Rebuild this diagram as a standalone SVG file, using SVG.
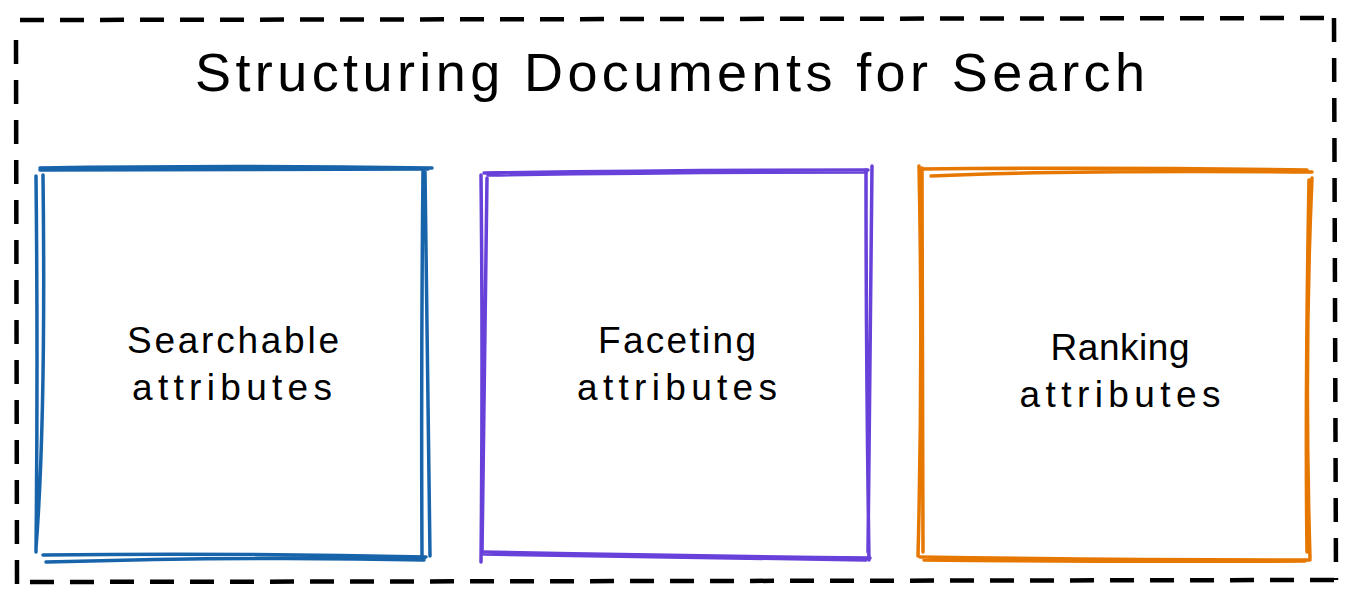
<svg xmlns="http://www.w3.org/2000/svg" width="1353" height="602" viewBox="0 0 1353 602">
  <style>
    .frame { fill: none; stroke: #000; stroke-width: 4.5; stroke-dasharray: 24 16; }
    .sk { fill: none; stroke-width: 3.5; stroke-linecap: round; stroke-linejoin: round; }
    .blue { stroke: #1864ab; }
    .purple { stroke: #6741d9; }
    .orange { stroke: #e67700; }
    .title { font-family: "Liberation Sans", "DejaVu Sans", sans-serif; font-size: 54px; fill: #000; }
    .label { font-family: "Liberation Sans", "DejaVu Sans", sans-serif; font-size: 37px; fill: #000; text-anchor: middle; }
  </style>
  <rect width="1353" height="602" fill="#fff"/>

  <!-- outer dashed frame -->
  <g id="frame">
    <path class="frame" d="M20 20 L1333 18 M1334 18 L1336 580 M1334 580 L28 582 M17 584 L16 38"/>
    <text class="title" x="670" y="91" text-anchor="middle" textLength="950">Structuring Documents for Search</text>
  </g>

  <!-- searchable -->
  <g id="searchable">
    <path class="sk blue" d="M40 168 Q230 165 432 168 M40 170 Q230 169 428 169"/>
    <path class="sk blue" d="M36 176 Q38 360 36 552 M43 175 Q46 420 36 548"/>
    <path class="sk blue" d="M43 555 Q240 553 426 557 M46 562 Q260 556 424 560"/>
    <path class="sk blue" d="M423 170 Q421 360 422 556 M425 172 Q428 400 430 556"/>
    <text class="label" x="233" y="353" textLength="212">Searchable</text>
    <text class="label" x="232" y="400" textLength="200">attributes</text>
  </g>

  <!-- faceting -->
  <g id="faceting">
    <path class="sk purple" d="M484 173 Q680 170 868 170 M488 175 Q690 172 866 172"/>
    <path class="sk purple" d="M481 175 Q483 360 481 562 M487 178 Q484 380 482 554"/>
    <path class="sk purple" d="M482 552 Q680 556 870 558 M484 554 Q690 558 866 560"/>
    <path class="sk purple" d="M866 170 Q866 360 869 560 M872 166 Q870 360 868 552"/>
    <text class="label" x="677" y="353" textLength="158">Faceting</text>
    <text class="label" x="677" y="400" textLength="200">attributes</text>
  </g>

  <!-- ranking -->
  <g id="ranking">
    <path class="sk orange" d="M921 169 Q1110 167 1307 170 M931 176 Q1060 170 1312 172"/>
    <path class="sk orange" d="M919 166 Q923 360 918 556 M922 168 Q922 380 923 552"/>
    <path class="sk orange" d="M920 557 Q1110 560 1310 560 M924 560 Q1120 562 1305 561"/>
    <path class="sk orange" d="M1312 178 Q1304 360 1310 558 M1309 180 Q1305 400 1307 552"/>
    <text class="label" x="1120" y="360" textLength="139">Ranking</text>
    <text class="label" x="1120" y="407" textLength="201">attributes</text>
  </g>
</svg>
